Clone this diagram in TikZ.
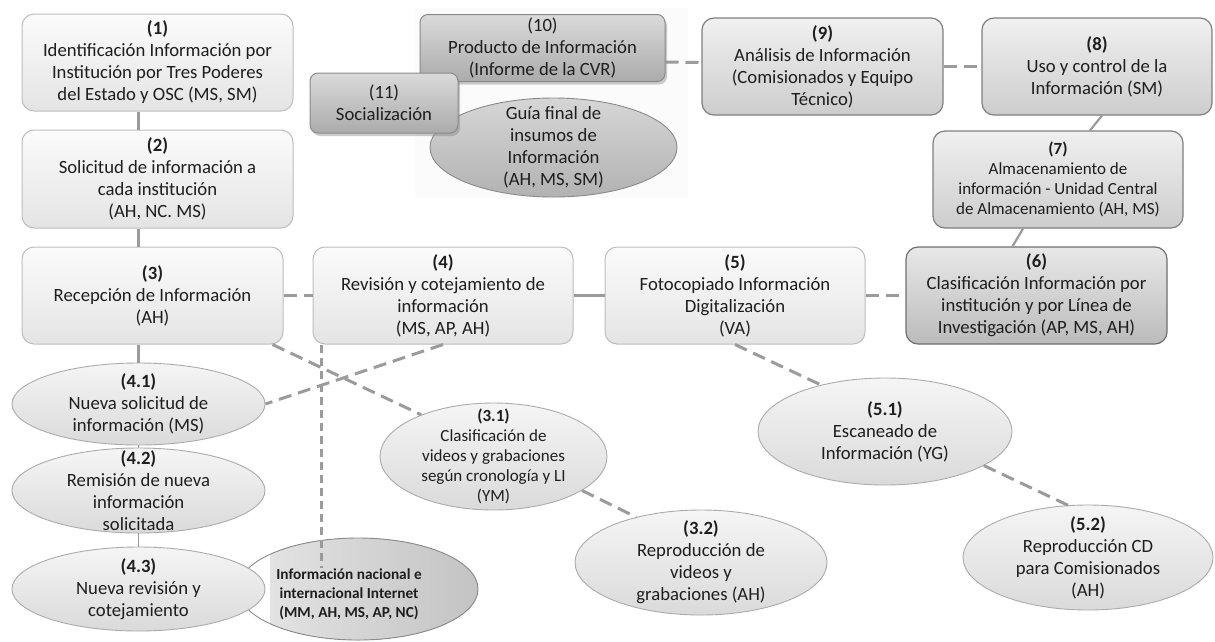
\documentclass[tikz,border=0pt]{standalone}
\usepackage{fontspec}
\setmainfont{Carlito}
\usetikzlibrary{shapes.geometric,shadows}
\definecolor{txt}{HTML}{1E1E1E}
\definecolor{ln}{HTML}{9B9B9B}
\definecolor{bA}{HTML}{BDBDBD}
\definecolor{tA}{HTML}{FBFBFB}
\definecolor{uA}{HTML}{E4E4E4}
\definecolor{bB}{HTML}{7F7F7F}
\definecolor{tB}{HTML}{F0F0F0}
\definecolor{uB}{HTML}{CDCDCD}
\definecolor{bC}{HTML}{6E6E6E}
\definecolor{tC}{HTML}{E8E8E8}
\definecolor{uC}{HTML}{BBBBBB}
\definecolor{bD}{HTML}{8A8A8A}
\definecolor{tD}{HTML}{DADADA}
\definecolor{uD}{HTML}{ABABAB}
\definecolor{tG}{HTML}{D6D6D6}
\definecolor{uG}{HTML}{B2B2B2}
\definecolor{bE}{HTML}{ABABAB}
\definecolor{tE}{HTML}{F5F5F5}
\definecolor{uE}{HTML}{DADADA}
\definecolor{gL}{HTML}{E2E2E2}
\definecolor{gR}{HTML}{C3C3C3}
\definecolor{panelc}{HTML}{FBFBFB}
\newcommand\fmainsz{\fontsize{18.7}{22}\selectfont}
\newcommand\fsmallsz{\fontsize{17}{20}\selectfont}
\newcommand\finetsz{\fontsize{15.3}{19}\selectfont\bfseries}
\begin{document}
\begin{tikzpicture}[x=1pt,y=-1pt,
  base/.style={align=center, inner sep=0pt, text=txt, font=\fmainsz},
  boxA/.style={base, rounded corners=12pt, draw=bA, line width=1pt, top color=tA, bottom color=uA},
  boxB/.style={base, rounded corners=12pt, draw=bB, line width=1.2pt, top color=tB, bottom color=uB},
  boxC/.style={base, rounded corners=12pt, draw=bC, line width=1.2pt, top color=tC, bottom color=uC},
  boxD/.style={base, rounded corners=8pt, draw=bD, line width=1pt, top color=tD, bottom color=uD,
    drop shadow={shadow xshift=2pt, shadow yshift=-3pt, opacity=0.4}},
  ell/.style={ellipse, draw=bE, line width=0.9pt, top color=tE, bottom color=uE, inner sep=0pt},
  lbl/.style={base},
  con/.style={draw=ln, line width=2.2pt},
  dcon/.style={draw=ln, line width=3pt, dash pattern=on 13pt off 7pt},
  vdcon/.style={draw=ln, line width=2.2pt, dash pattern=on 8pt off 5pt}]
\useasboundingbox (0,0) rectangle (1215,641);
\fill[panelc] (415,8) rectangle (688,198);

% top cluster
\node[boxD, minimum width=245pt, minimum height=67pt] (n10) at (542.5,48) {(10)\\Producto de Información\\(Informe de la CVR)};
\node[ell, draw=bD, top color=tG, bottom color=uG, minimum width=247pt, minimum height=99pt,
  label={[lbl]center:{Guía final de\\insumos de\\Información\\(AH, MS, SM)}}] (guia) at (553.5,147.5) {};
\node[boxD, minimum width=148pt, minimum height=60pt] (n11) at (384,103) {(11)\\Socialización};

\node[boxB, minimum width=241pt, minimum height=97pt] (n9) at (822.5,66.5) {\textbf{(9)}\\Análisis de Información\\(Comisionados y Equipo\\Técnico)};
\node[boxB, minimum width=230pt, minimum height=97pt] (n8) at (1097,66.5) {\textbf{(8)}\\Uso y control de la\\Información (SM)};
\node[boxB, minimum width=250pt, minimum height=97pt, font=\fsmallsz] (n7) at (1058,179.5) {\textbf{(7)}\\Almacenamiento de\\información - Unidad Central\\de Almacenamiento (AH, MS)};
\node[boxC, minimum width=261pt, minimum height=97pt] (n6) at (1036.5,295.5) {\textbf{(6)}\\Clasificación Información por\\institución y por Línea de\\Investigación (AP, MS, AH)};

\node[boxA, minimum width=271pt, minimum height=97pt] (n1) at (157.5,62.5) {\textbf{(1)}\\Identificación Información por\\Institución por Tres Poderes\\del Estado y OSC (MS, SM)};
\node[boxA, minimum width=271pt, minimum height=98pt] (n2) at (157.5,179) {\textbf{(2)}\\Solicitud de información a\\cada institución\\(AH, NC. MS)};
\node[boxA, minimum width=261pt, minimum height=97pt] (n3) at (152.5,295.5) {\textbf{(3)}\\Recepción de Información\\(AH)};
\node[boxA, minimum width=260pt, minimum height=97pt] (n4) at (443,295.5) {\textbf{(4)}\\Revisión y cotejamiento de\\información\\(MS, AP, AH)};
\node[boxA, minimum width=260pt, minimum height=97pt] (n5) at (735,295.5) {\textbf{(5)}\\Fotocopiado Información\\Digitalización\\(VA)};

% ellipses
\node[ell, minimum width=253pt, minimum height=82pt,
  label={[lbl]center:{\textbf{(4.1)}\\Nueva solicitud de\\información (MS)}}] (n41) at (138.5,404) {};
\node[ell, minimum width=253pt, minimum height=85pt,
  label={[lbl]center:{\textbf{(4.2)}\\Remisión de nueva\\información\\solicitada}}] (n42) at (138.5,490.5) {};

\fill[white] (358,589) ellipse [x radius=120, y radius=51];
\begin{scope}
  \clip (358,589) ellipse [x radius=120, y radius=51];
  \fill[left color=gL, right color=gR] (270,530) rectangle (480,645);
\end{scope}
\node[ellipse, draw=bD, line width=0.9pt, inner sep=0pt, minimum width=240pt, minimum height=102pt] (inet) at (358,589) {};
\node[base, font=\finetsz] (inett) at (349,594) {Información nacional e\\internacional Internet\\(MM, AH, MS, AP, NC)};

\node[ell, minimum width=253pt, minimum height=84pt,
  label={[lbl]center:{\textbf{(4.3)}\\Nueva revisión y\\cotejamiento}}] (n43) at (138.5,589) {};

\node[ell, minimum width=227pt, minimum height=107pt,
  label={[lbl, font=\fsmallsz]center:{\textbf{(3.1)}\\Clasificación de\\videos y grabaciones\\según cronología y LI\\(YM)}}] (n31) at (493.5,456.5) {};
\node[ell, minimum width=252pt, minimum height=105pt,
  label={[lbl]center:{\textbf{(3.2)}\\Reproducción de\\videos y\\grabaciones (AH)}}] (n32) at (701,562.5) {};
\node[ell, minimum width=254pt, minimum height=107pt,
  label={[lbl]center:{\textbf{(5.1)}\\Escaneado de\\Información (YG)}}] (n51) at (885,431.5) {};
\node[ell, minimum width=250pt, minimum height=105pt,
  label={[lbl]center:{\textbf{(5.2)}\\Reproducción CD\\para Comisionados\\(AH)}}] (n52) at (1088,557.5) {};

% connectors
\draw[con] (n1.south -| n41) -- (n2.north -| n41);
\draw[con] (n2.south -| n41) -- (n3.north -| n41);
\draw[con] (n3.south -| n41) -- (n41.north);
\draw[con, line width=1.4pt] (n41.south) -- (n42.north);
\draw[con, line width=1.4pt] (n42.south) -- (n43.north);
\draw[dcon] (n3.east) -- (n4.west);
\draw[con] (n4.east) -- (n5.west);
\draw[dcon] (n5.east) -- (n6.west);
\draw[con] ([xshift=-24pt]n6.north) -- ([xshift=-35pt]n7.south);
\draw[con] ([xshift=32pt]n7.north) -- ([xshift=5pt]n8.south);
\draw[dcon] (n9.east) -- (n8.west);
\draw[dcon] ([yshift=-14pt]n10.east) -- ([yshift=4pt]n9.west);
\draw[dcon] ([xshift=-11pt]n3.south east) -- (n31.150);
\draw[dcon] (n31.-21) -- (n32.145);
\draw[dcon] (n4.south) -- (n41.east);
\coordinate (v4) at ([xshift=9pt]n4.south west);
\draw[vdcon] (v4) -- (v4 |- inett.north);
\draw[dcon] (n5.south) -- (n51.144);
\draw[dcon] (n51.-19) -- (n52.111);
\end{tikzpicture}
\end{document}
